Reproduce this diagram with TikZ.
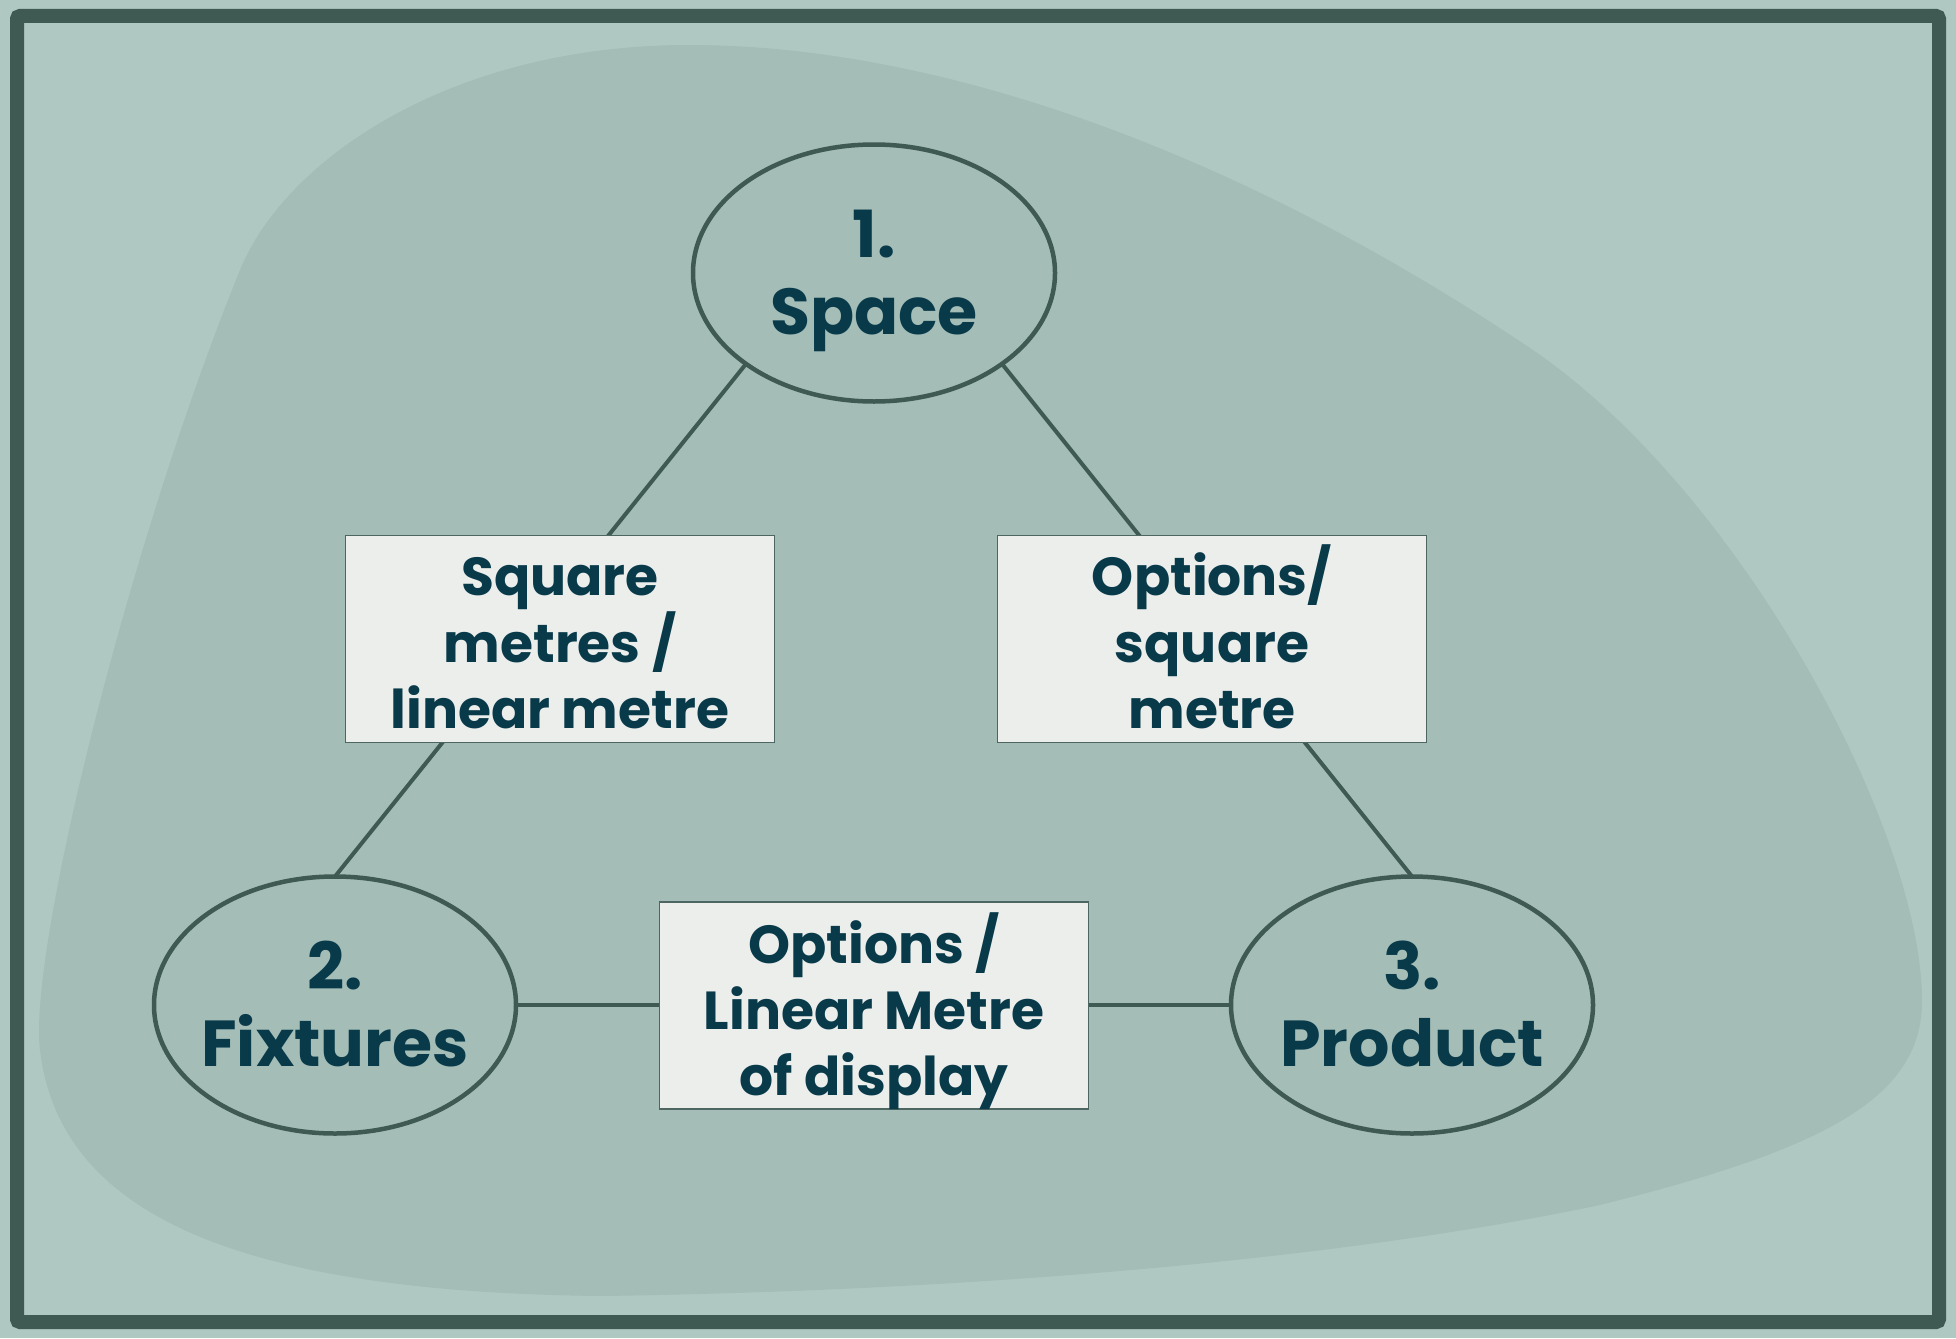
\documentclass[tikz,border=0pt]{standalone}
\usepackage{fontspec}
\setmainfont{Poppins}
\usetikzlibrary{shapes.geometric}
\definecolor{bgc}{HTML}{AFC8C2}
\definecolor{blobc}{HTML}{A4BDB7}
\definecolor{edge}{HTML}{3F5A52}
\definecolor{ink}{HTML}{083A4A}
\definecolor{boxfill}{HTML}{ECEEEC}
\definecolor{boxedge}{HTML}{4E6661}
\begin{document}
\begin{tikzpicture}[x=1pt,y=-1pt,
  nodeell/.style={ellipse, draw=edge, line width=4.5pt, minimum width=362pt, minimum height=257pt, inner sep=0pt, outer sep=0pt},
  conn/.style={draw=edge, line width=4pt},
  relbox/.style={rectangle, draw=boxedge, line width=1.3pt, fill=boxfill, minimum width=429pt, minimum height=207pt, inner sep=0pt, outer sep=0pt},
  bigtxt/.style={anchor=base, inner sep=0pt, text=ink, font=\fontsize{65}{77}\selectfont\bfseries},
  boxtxt/.style={anchor=base, inner sep=0pt, text=ink, font=\fontsize{53.5}{66}\selectfont\bfseries},
]
\fill[bgc] (0,0) rectangle (1956,1338);
\useasboundingbox (0,0) rectangle (1956,1338);
\fill[blobc] (689,45)
  .. controls (950,45) and (1250,160) .. (1530,348)
  .. controls (1740,490) and (1922,830) .. (1922,1001)
  .. controls (1922,1100) and (1820,1150) .. (1600,1205)
  .. controls (1300,1268) and (900,1292) .. (600,1296)
  .. controls (250,1292) and (60,1220) .. (40,1050)
  .. controls (28,950) and (130,540) .. (240,270)
  .. controls (285,160) and (450,45) .. (689,45) -- cycle;
\draw[edge, line width=14pt, rounded corners=3pt] (17,16) rectangle (1939,1322);

\node[nodeell] (e1) at (874,273) {};
\node[nodeell] (e2) at (335,1005) {};
\node[nodeell] (e3) at (1412,1005) {};

\draw[conn] (e1.south west) -- (e2.north);
\draw[conn] (e1.south east) -- (e3.north);
\draw[conn] (e2.east) -- (e3.west);

\node[relbox] (b1) at (560,639) {};
\node[relbox] (b2) at (1212,639) {};
\node[relbox] (b3) at (874,1005.5) {};

\node[bigtxt] (t1a) at (874,257) {1.};
\node[bigtxt] (t1b) at (874,334) {Space};
\node[bigtxt] (t2a) at (335,989) {2.};
\node[bigtxt] (t2b) at (335,1066) {Fixtures};
\node[bigtxt] (t3a) at (1412,989) {3.};
\node[bigtxt] (t3b) at (1412,1066) {Product};

\node[boxtxt] (s1a) at (560,595) {Square};
\node[boxtxt] (s1b) at (560,662) {metres /};
\node[boxtxt] (s1c) at (560,728) {linear metre};
\node[boxtxt] (s2a) at (1212,595) {Options/};
\node[boxtxt] (s2b) at (1212,662) {square};
\node[boxtxt] (s2c) at (1212,728) {metre};
\node[boxtxt] (s3a) at (874,963) {Options /};
\node[boxtxt] (s3b) at (874,1029) {Linear Metre};
\node[boxtxt] (s3c) at (874,1095) {of display};
\end{tikzpicture}
\end{document}
